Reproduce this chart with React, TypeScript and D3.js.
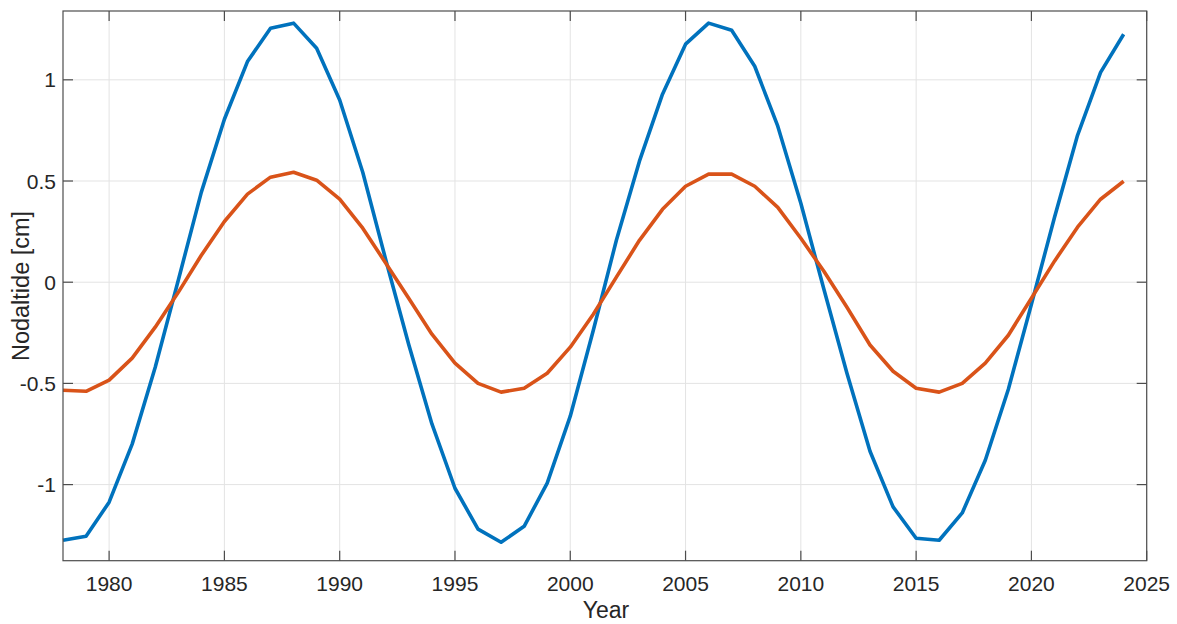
import React from "react";
import * as d3 from "d3";

const years: number[] = d3.range(1978, 2025);
const blueSeries: number[] = [
  -1.275, -1.255, -1.087, -0.8, -0.42, 0.01, 0.445, 0.805, 1.09, 1.255,
  1.28, 1.156, 0.9, 0.543, 0.11, -0.31, -0.7, -1.018, -1.22, -1.285,
  -1.206, -0.993, -0.662, -0.237, 0.207, 0.598, 0.929, 1.176, 1.28, 1.245,
  1.067, 0.771, 0.39, -0.035, -0.45, -0.835, -1.11, -1.265, -1.275, -1.14,
  -0.88, -0.529, -0.109, 0.32, 0.726, 1.037, 1.225,
];
const orangeSeries: number[] = [
  -0.534, -0.539, -0.484, -0.375, -0.222, -0.05, 0.133, 0.3, 0.435, 0.519,
  0.543, 0.504, 0.41, 0.267, 0.094, -0.08, -0.257, -0.4, -0.5, -0.543,
  -0.524, -0.45, -0.321, -0.158, 0.025, 0.207, 0.36, 0.474, 0.534, 0.534,
  0.474, 0.37, 0.217, 0.054, -0.124, -0.31, -0.44, -0.524, -0.543, -0.5,
  -0.4, -0.262, -0.079, 0.104, 0.272, 0.41, 0.499,
];
const xTicks: number[] = [1980, 1985, 1990, 1995, 2000, 2005, 2010, 2015, 2020, 2025];
const yTicks: number[] = [-1, -0.5, 0, 0.5, 1];
const xLabel = "Year";
const yLabel = "Nodaltide [cm]";

const W = 1177, H = 624;
const left = 63, right = 1146.7, top = 11, bottom = 560.7;
const axisColor = "#4d4d4d";
const textColor = "#262626";
const gridColor = "#e3e3e3";
const font = "'Liberation Sans', Arial, Helvetica, sans-serif";

export default function App() {
  const x = d3.scaleLinear().domain([1978, 2025]).range([left, right]);
  const y = d3.scaleLinear().domain([-1.376, 1.34]).range([bottom, top]);
  const line = d3.line<number>().x((_, i) => x(years[i])).y((d) => y(d));
  const tl = 10;
  return (
    <svg width={W} height={H} style={{ position: "absolute", left: 0, top: 0, background: "#fff" }}>
      <rect x={0} y={0} width={W} height={H} fill="#fff" />
      {xTicks.map((t) => (
        <line key={"gx" + t} x1={x(t)} x2={x(t)} y1={top} y2={bottom} stroke={gridColor} strokeWidth={1} />
      ))}
      {yTicks.map((t) => (
        <line key={"gy" + t} x1={left} x2={right} y1={y(t)} y2={y(t)} stroke={gridColor} strokeWidth={1} />
      ))}
      <path d={line(blueSeries) || ""} fill="none" stroke="#0072BD" strokeWidth={3.6} strokeLinejoin="round" />
      <path d={line(orangeSeries) || ""} fill="none" stroke="#D95319" strokeWidth={3.6} strokeLinejoin="round" />
      <rect x={left} y={top} width={right - left} height={bottom - top} fill="none" stroke={axisColor} strokeWidth={1.2} />
      {xTicks.map((t) => (
        <g key={"tx" + t}>
          <line x1={x(t)} x2={x(t)} y1={bottom} y2={bottom - tl} stroke={axisColor} strokeWidth={1.2} />
          <line x1={x(t)} x2={x(t)} y1={top} y2={top + tl} stroke={axisColor} strokeWidth={1.2} />
          <text x={x(t)} y={bottom + 30} textAnchor="middle" fontFamily={font} fontSize={21} fill={textColor}>
            {t}
          </text>
        </g>
      ))}
      {yTicks.map((t) => (
        <g key={"ty" + t}>
          <line x1={left} x2={left + tl} y1={y(t)} y2={y(t)} stroke={axisColor} strokeWidth={1.2} />
          <line x1={right} x2={right - tl} y1={y(t)} y2={y(t)} stroke={axisColor} strokeWidth={1.2} />
          <text x={left - 7} y={y(t) + 7.5} textAnchor="end" fontFamily={font} fontSize={21} fill={textColor}>
            {t}
          </text>
        </g>
      ))}
      <text x={606} y={618} textAnchor="middle" fontFamily={font} fontSize={23} fill={textColor}>
        {xLabel}
      </text>
      <text
        transform={`translate(29,286) rotate(-90)`}
        textAnchor="middle"
        fontFamily={font}
        fontSize={23.5}
        fill={textColor}
      >
        {yLabel}
      </text>
    </svg>
  );
}
